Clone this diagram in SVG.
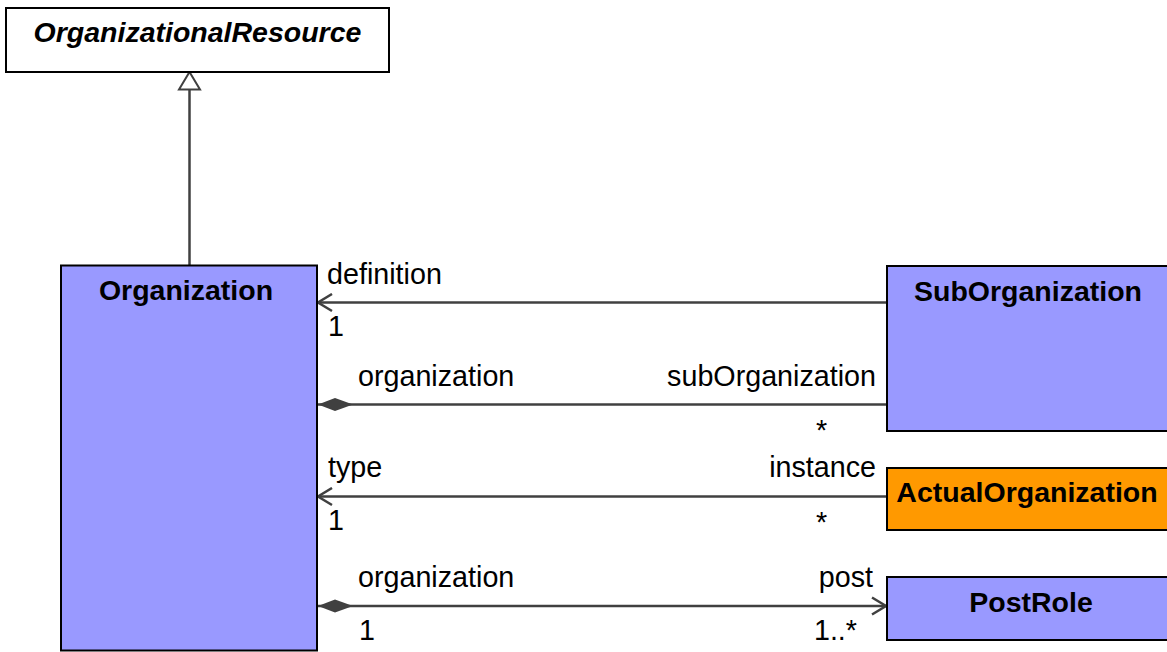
<svg xmlns="http://www.w3.org/2000/svg" width="1167" height="652" viewBox="0 0 1167 652">
<style>
.box{stroke:#000;stroke-width:2}
.cls{fill:#9999FF}
.act{fill:#FF9900}
.abs{fill:#fff}
.title{font-family:"Liberation Sans",Arial,sans-serif;font-size:28.5px;font-weight:bold;fill:#000}
.lbl{font-family:"Liberation Sans",Arial,sans-serif;font-size:28.7px;fill:#000}
.edge{stroke:#404040;stroke-width:2.5;fill:none}
</style>
<defs>
<marker id="open" markerUnits="userSpaceOnUse" markerWidth="20" markerHeight="20" refX="15" refY="10" orient="auto-start-reverse" viewBox="0 0 20 20">
<path d="M1,1.5 L15,10 L1,18.5" fill="none" stroke="#404040" stroke-width="2.5"/>
</marker>
<marker id="diamond" markerUnits="userSpaceOnUse" markerWidth="38" markerHeight="14" refX="35" refY="7" orient="auto-start-reverse" viewBox="0 0 38 14">
<path d="M0,7 L18,0.5 L35,7 L18,13.5 Z" fill="#404040"/>
</marker>
</defs>
<g id="connectors">
<line class="edge" x1="189.5" y1="265" x2="189.5" y2="90"/>
<path d="M179,89.5 L189.5,72 L200,89.5 Z" fill="#fff" stroke="#404040" stroke-width="2"/>
<line class="edge" x1="887" y1="302.5" x2="318" y2="302.5" marker-end="url(#open)"/>
<line class="edge" x1="887" y1="404.5" x2="318" y2="404.5" marker-end="url(#diamond)"/>
<line class="edge" x1="887" y1="496.5" x2="318" y2="496.5" marker-end="url(#open)"/>
<line class="edge" x1="318" y1="606" x2="886" y2="606" marker-start="url(#diamond)" marker-end="url(#open)"/>
<text class="lbl" x="327" y="284">definition</text>
<text class="lbl" x="328" y="336">1</text>
<text class="lbl" x="358" y="386">organization</text>
<text class="lbl" x="876" y="386" text-anchor="end">subOrganization</text>
<text class="lbl" x="816" y="440">*</text>
<text class="lbl" x="328" y="477">type</text>
<text class="lbl" x="876" y="477" text-anchor="end">instance</text>
<text class="lbl" x="328" y="530">1</text>
<text class="lbl" x="816" y="532">*</text>
<text class="lbl" x="358" y="587">organization</text>
<text class="lbl" x="873" y="587" text-anchor="end">post</text>
<text class="lbl" x="359" y="640">1</text>
<text class="lbl" x="857" y="640" text-anchor="end">1..*</text>
</g>
<g id="OrganizationalResource">
<rect class="box abs" x="6" y="8" width="383" height="64"/>
<text class="title" x="197.5" y="42" text-anchor="middle" font-style="italic">OrganizationalResource</text>
</g>
<g id="Organization">
<rect class="box cls" x="61" y="265.5" width="256" height="385"/>
<text class="title" x="186" y="300" text-anchor="middle">Organization</text>
</g>
<g id="SubOrganization">
<rect class="box cls" x="887" y="266" width="282" height="165"/>
<text class="title" x="1028" y="301" text-anchor="middle">SubOrganization</text>
</g>
<g id="ActualOrganization">
<rect class="box act" x="887" y="468" width="282" height="62"/>
<text class="title" x="1027" y="502" text-anchor="middle">ActualOrganization</text>
</g>
<g id="PostRole">
<rect class="box cls" x="887" y="577" width="282" height="63"/>
<text class="title" x="1031" y="612" text-anchor="middle">PostRole</text>
</g>
</svg>
